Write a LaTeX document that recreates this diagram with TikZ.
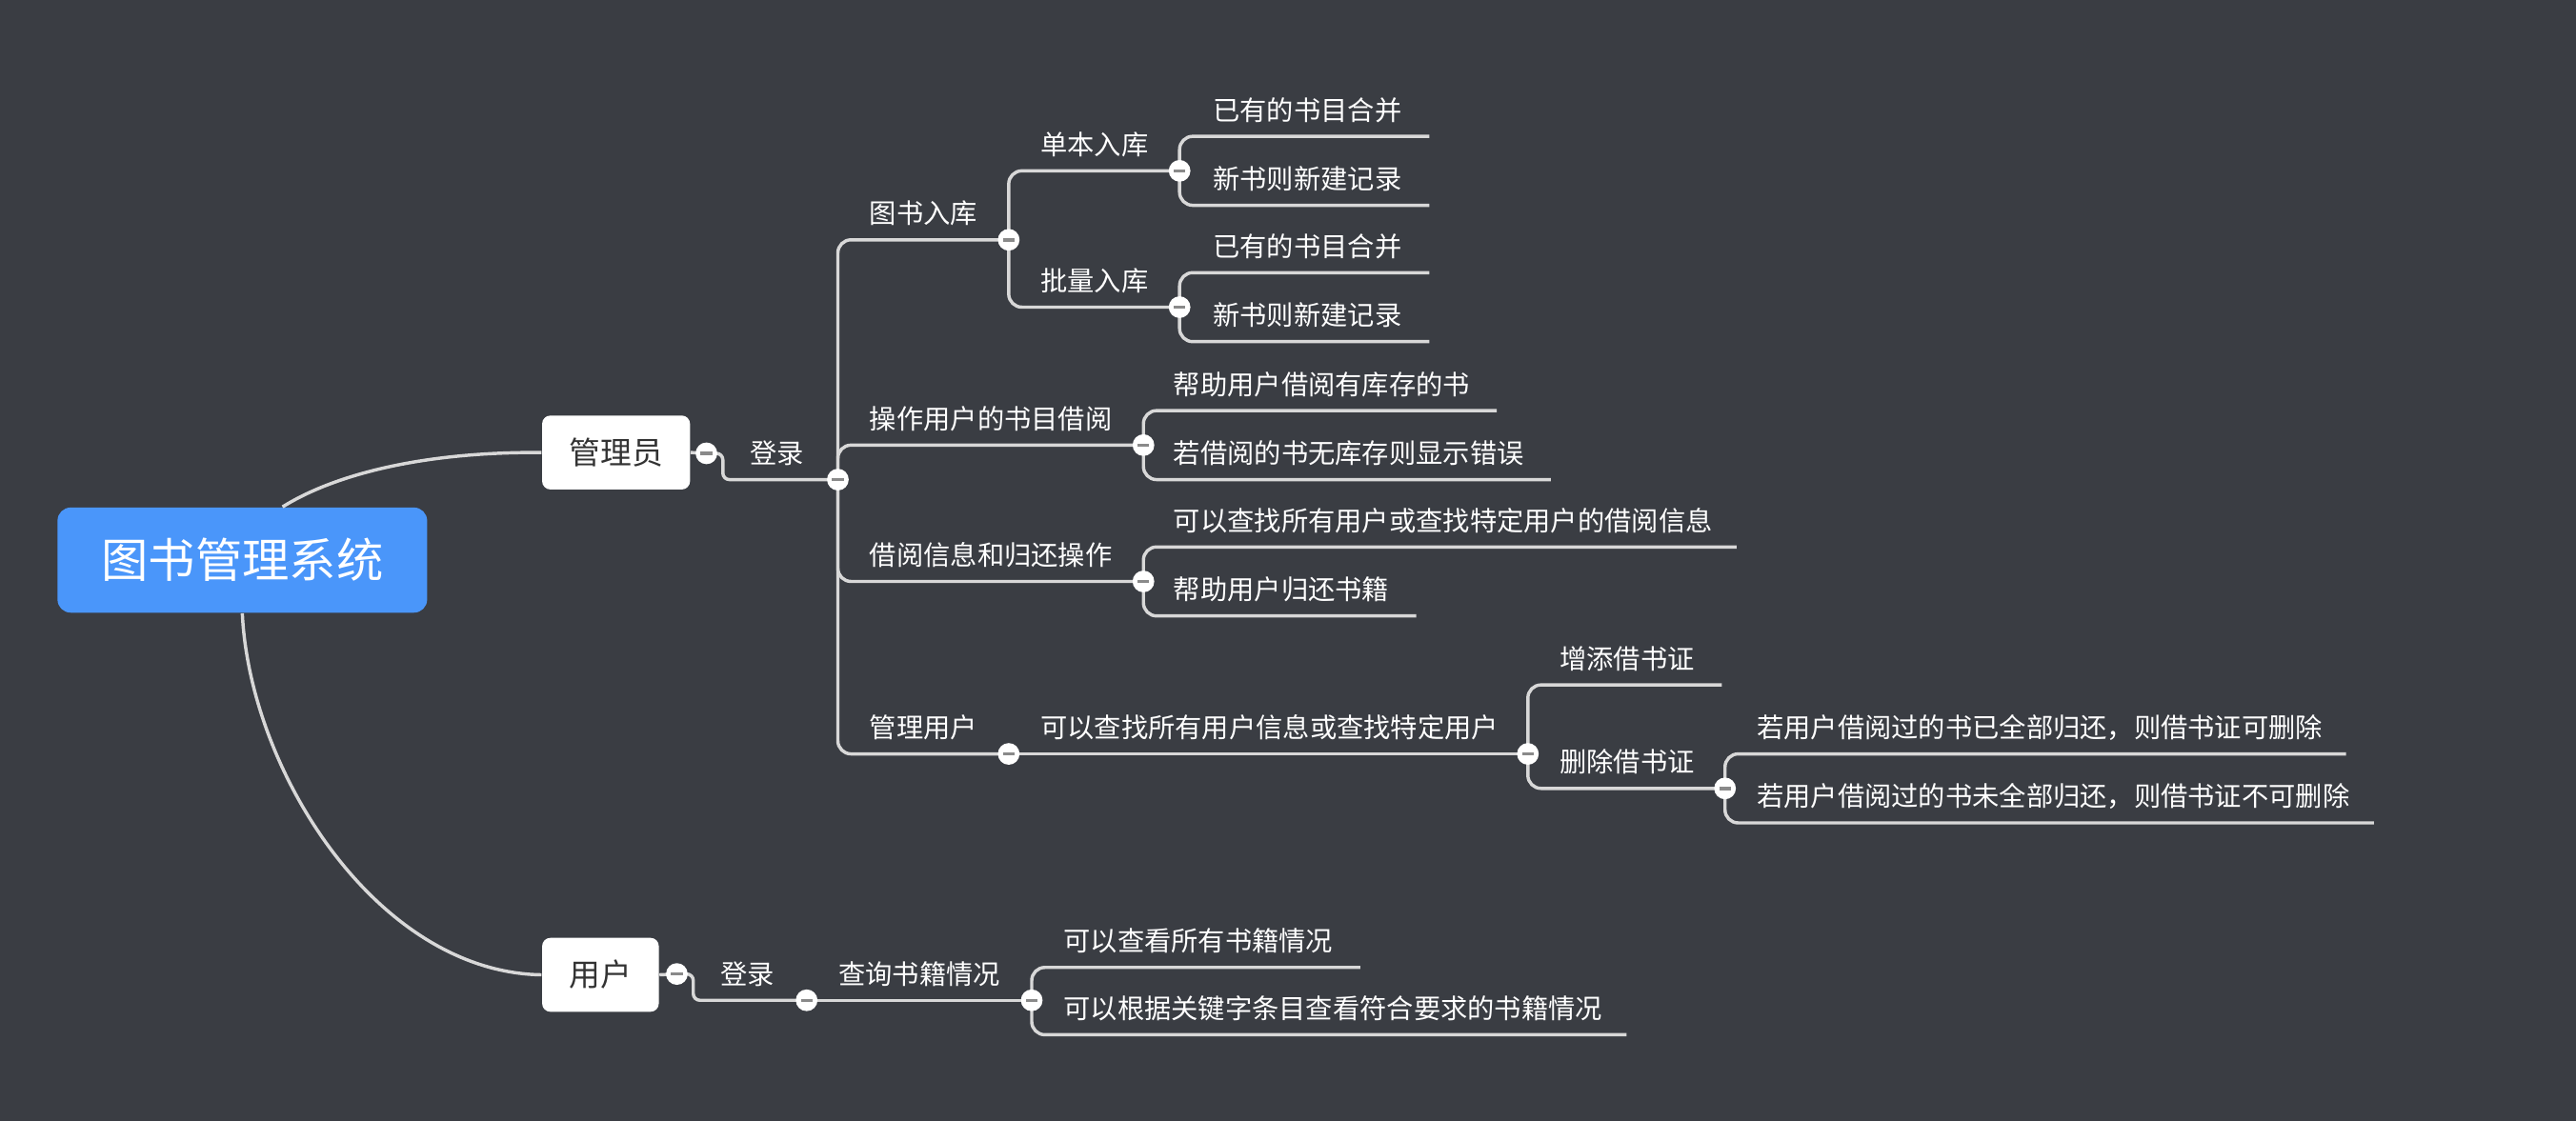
\documentclass[tikz,border=0pt]{standalone}
\usepackage{fontspec}
\setmainfont{Noto Sans CJK SC}
\definecolor{bgcol}{HTML}{3A3D43}
\definecolor{linecol}{HTML}{D8D8D8}
\definecolor{rootcol}{HTML}{4A96FA}
\definecolor{minuscol}{HTML}{8A8A8A}
\definecolor{darktext}{HTML}{333333}
\begin{document}
\begin{tikzpicture}[x=0.5pt,y=-0.5pt,
  conn/.style={draw=linecol, line width=1pt, rounded corners=4pt},
  fold/.style={circle, fill=white, inner sep=0pt, minimum size=6.6pt,
    path picture={\draw[minuscol, line width=1pt]
      ([xshift=-1.8pt]path picture bounding box.center) --
      ([xshift=1.8pt]path picture bounding box.center);}},
  lbl/.style={anchor=west, inner sep=0pt, text=white,
    font=\fontsize{8.2pt}{9pt}\selectfont},
  rootbox/.style={fill=rootcol, rounded corners=4pt, text=white,
    minimum width=112.5pt, minimum height=32pt, inner sep=0pt,
    font=\fontsize{14.3pt}{16pt}\selectfont},
  subbox/.style={fill=white, rounded corners=2.5pt, text=darktext,
    minimum height=22.5pt, inner sep=0pt,
    font=\fontsize{9.5pt}{11pt}\selectfont}]

% canvas
\useasboundingbox (0,0) rectangle (1568,682);
\fill[bgcol] (-4,-4) rectangle (1572,686);

% main topics
\node[rootbox] (root) at (147.5,341) {图书管理系统};
\node[subbox, minimum width=45pt] (admin) at (375,275.5) {管理员};
\node[subbox, minimum width=35.5pt] (user) at (365.5,593.5) {用户};

% fold marker positions
\coordinate (pAdm) at (430,276);
\coordinate (pLogin) at (510,292);
\coordinate (pTsrk) at (614,146);
\coordinate (pDbrk) at (718,104);
\coordinate (pPlrk) at (718,187);
\coordinate (pCzjy) at (696,271);
\coordinate (pJyxx) at (696,354);
\coordinate (pGlyh) at (614,459);
\coordinate (pCxyh) at (930,459);
\coordinate (pScjsz) at (1050,480);
\coordinate (pUser) at (412,593);
\coordinate (pULogin) at (491,609);
\coordinate (pCxsj) at (628,609);

% free ends of leaf underlines
\coordinate (eDb1) at (870,83);
\coordinate (eDb2) at (870,125);
\coordinate (ePl1) at (870,166);
\coordinate (ePl2) at (870,208);
\coordinate (eCz1) at (911,250);
\coordinate (eCz2) at (944,292);
\coordinate (eJy1) at (1057,333);
\coordinate (eJy2) at (862,375);
\coordinate (eZt) at (1048,417);
\coordinate (eSc1) at (1428,459);
\coordinate (eSc2) at (1445,501);
\coordinate (eCx1) at (828,589);
\coordinate (eCx2) at (990,630);

% curved links from the central topic
\draw[linecol, line width=1pt] ([xshift=12.25pt]root.north)
  .. controls (205,288) and (260,275) .. (admin.west);
\draw[linecol, line width=1pt] (root.south)
  .. controls (152,470) and (230,592) .. (user.west);

% administrator branch
\draw[conn] (admin.east) -- (pAdm);
\draw[conn, rounded corners=2pt] (pAdm) -- ++(10,0) |- (pLogin);
\draw[conn] (pLogin) |- (pTsrk);
\draw[conn] (pLogin) |- (pCzjy);
\draw[conn] (pLogin) |- (pJyxx);
\draw[conn] (pLogin) |- (pGlyh);
\draw[conn] (pTsrk) |- (pDbrk);
\draw[conn] (pTsrk) |- (pPlrk);
\draw[conn] (pDbrk) |- (eDb1);
\draw[conn] (pDbrk) |- (eDb2);
\draw[conn] (pPlrk) |- (ePl1);
\draw[conn] (pPlrk) |- (ePl2);
\draw[conn] (pCzjy) |- (eCz1);
\draw[conn] (pCzjy) |- (eCz2);
\draw[conn] (pJyxx) |- (eJy1);
\draw[conn] (pJyxx) |- (eJy2);
\draw[conn] (pGlyh) -- (pCxyh);
\draw[conn] (pCxyh) |- (eZt);
\draw[conn] (pCxyh) |- (pScjsz);
\draw[conn] (pScjsz) |- (eSc1);
\draw[conn] (pScjsz) |- (eSc2);

% user branch
\draw[conn] (user.east) -- (pUser);
\draw[conn, rounded corners=2pt] (pUser) -- ++(10,0) |- (pULogin);
\draw[conn] (pULogin) -- (pCxsj);
\draw[conn] (pCxsj) |- (eCx1);
\draw[conn] (pCxsj) |- (eCx2);

% fold markers
\foreach \p/\n in {pAdm/fAdm, pLogin/fLogin, pTsrk/fTsrk, pDbrk/fDbrk,
  pPlrk/fPlrk, pCzjy/fCzjy, pJyxx/fJyxx, pGlyh/fGlyh, pCxyh/fCxyh,
  pScjsz/fScjsz, pUser/fUser, pULogin/fULogin, pCxsj/fCxsj}
  \node[fold] (\n) at (\p) {};

% topic labels
\node[lbl] (tLogin) at (456,276) {登录};
\node[lbl] (tTsrk) at (529,130) {图书入库};
\node[lbl] (tDbrk) at (633,88) {单本入库};
\node[lbl] (tDb1) at (738,67) {已有的书目合并};
\node[lbl] (tDb2) at (738,109) {新书则新建记录};
\node[lbl] (tPlrk) at (633,171) {批量入库};
\node[lbl] (tPl1) at (738,150) {已有的书目合并};
\node[lbl] (tPl2) at (738,192) {新书则新建记录};
\node[lbl] (tCzjy) at (529,255) {操作用户的书目借阅};
\node[lbl] (tCz1) at (714,234) {帮助用户借阅有库存的书};
\node[lbl] (tCz2) at (714,276) {若借阅的书无库存则显示错误};
\node[lbl] (tJyxx) at (529,338) {借阅信息和归还操作};
\node[lbl] (tJy1) at (714,317) {可以查找所有用户或查找特定用户的借阅信息};
\node[lbl] (tJy2) at (714,359) {帮助用户归还书籍};
\node[lbl] (tGlyh) at (529,443) {管理用户};
\node[lbl] (tCxyh) at (633,443) {可以查找所有用户信息或查找特定用户};
\node[lbl] (tZt) at (949,401) {增添借书证};
\node[lbl] (tScjsz) at (949,464) {删除借书证};
\node[lbl] (tSc1) at (1069,443) {若用户借阅过的书已全部归还，则借书证可删除};
\node[lbl] (tSc2) at (1069,485) {若用户借阅过的书未全部归还，则借书证不可删除};
\node[lbl] (tULogin) at (438,593) {登录};
\node[lbl] (tCxsj) at (510,593) {查询书籍情况};
\node[lbl] (tCx1) at (647,573) {可以查看所有书籍情况};
\node[lbl] (tCx2) at (647,614) {可以根据关键字条目查看符合要求的书籍情况};
\end{tikzpicture}
\end{document}
